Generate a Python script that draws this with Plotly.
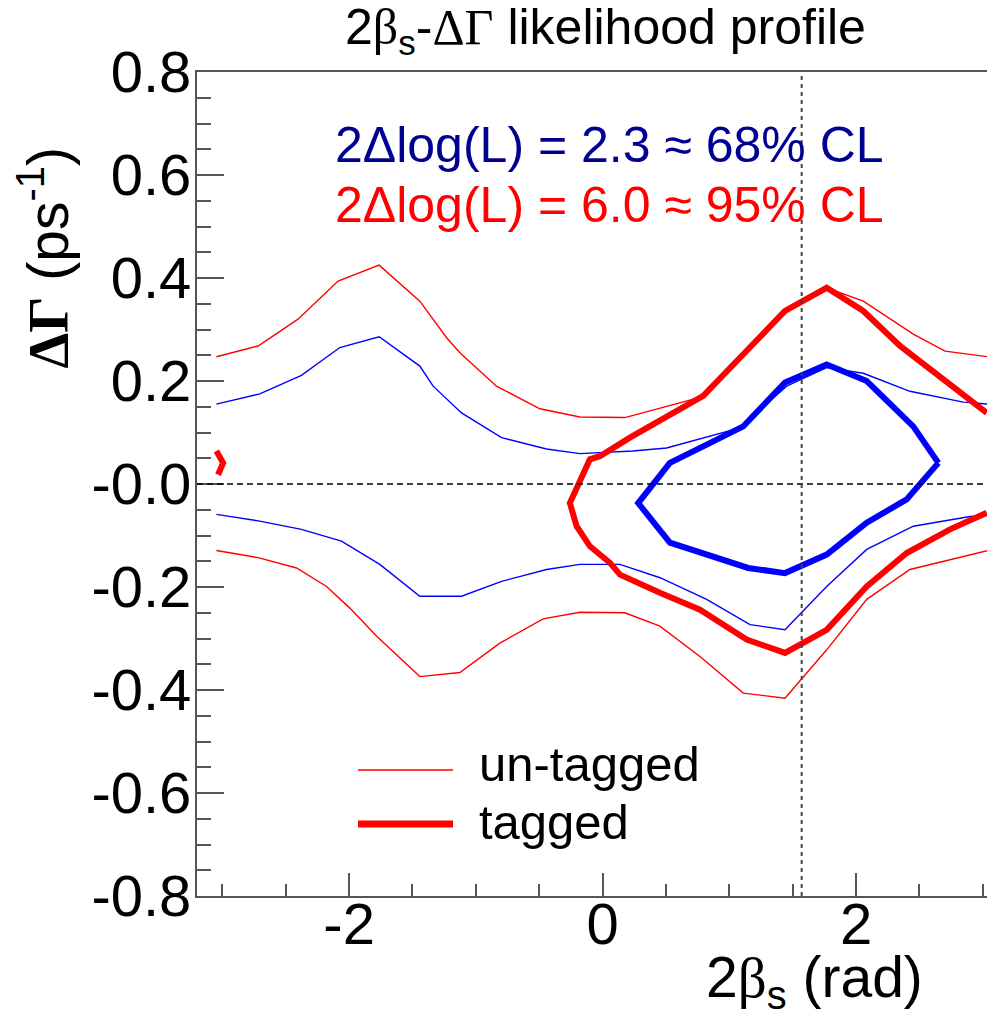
import plotly.graph_objects as go

# ---------------- data ----------------
# un-tagged, 95% CL (thin red), upper and lower branches
untag95_up_x = [-3.047, -2.718, -2.403, -2.087, -1.763, -1.442, -1.231, -1.126, -0.837, -0.495,
                -0.179, 0.176, 0.768, 1.110, 1.452, 1.768, 2.057, 2.451, 2.702, 3.043]
untag95_up_y = [0.247, 0.268, 0.320, 0.394, 0.425, 0.355, 0.284, 0.255, 0.190, 0.146,
                0.130, 0.129, 0.168, 0.248, 0.336, 0.381, 0.355, 0.291, 0.258, 0.247]
untag95_lo_x = [-3.047, -2.718, -2.415, -2.178, -1.994, -1.784, -1.442, -1.126, -0.811, -0.469,
                -0.179, 0.176, 0.452, 0.768, 1.110, 1.439, 1.768, 2.084, 2.425, 3.043]
untag95_lo_y = [-0.129, -0.143, -0.163, -0.199, -0.241, -0.295, -0.374, -0.366, -0.309, -0.262,
                -0.249, -0.250, -0.276, -0.335, -0.406, -0.416, -0.322, -0.224, -0.166, -0.129]

# un-tagged, 68% CL (thin blue)
untag68_up_x = [-3.047, -2.705, -2.376, -2.073, -1.763, -1.442, -1.337, -1.113, -0.797, -0.442,
                -0.179, 0.239, 0.505, 1.084, 1.452, 1.768, 2.057, 2.425, 2.846, 3.043]
untag68_up_y = [0.155, 0.175, 0.211, 0.265, 0.286, 0.229, 0.190, 0.138, 0.090, 0.068,
                0.059, 0.064, 0.070, 0.109, 0.190, 0.226, 0.215, 0.180, 0.159, 0.155]
untag68_lo_x = [-3.047, -2.705, -2.376, -2.060, -1.758, -1.442, -1.113, -0.797, -0.442, -0.179,
                0.137, 0.453, 0.821, 1.163, 1.439, 1.768, 2.084, 2.451, 2.899, 3.043]
untag68_lo_y = [-0.059, -0.072, -0.088, -0.111, -0.156, -0.218, -0.218, -0.189, -0.166, -0.156,
                -0.156, -0.182, -0.224, -0.273, -0.283, -0.199, -0.127, -0.082, -0.063, -0.061]

# tagged, 68% CL (thick blue, closed contour)
tag68_x = [2.649, 2.451, 2.084, 1.768, 1.439, 1.110, 0.794, 0.531, 0.281, 0.531,
           1.149, 1.439, 1.768, 2.084, 2.399, 2.649]
tag68_y = [0.041, 0.112, 0.200, 0.232, 0.197, 0.112, 0.073, 0.041, -0.037, -0.114,
           -0.163, -0.173, -0.137, -0.075, -0.030, 0.041]

# tagged, 95% CL (thick red), main piece and small piece at the left edge
tag95_x = [3.031, 2.347, 2.057, 1.768, 1.439, 1.110, 0.794, 0.215, -0.021, -0.100, -0.179,
           -0.258, -0.205, -0.100, 0.058, 0.137, 0.452, 0.768, 1.137, 1.439, 1.768, 2.084,
           2.399, 2.741, 3.031]
tag95_y = [0.138, 0.268, 0.336, 0.381, 0.336, 0.252, 0.171, 0.090, 0.054, 0.048, 0.002,
           -0.037, -0.082, -0.121, -0.153, -0.176, -0.211, -0.244, -0.302, -0.328, -0.283,
           -0.199, -0.134, -0.088, -0.056]
tag95_edge_x = [-3.047, -2.994, -3.034]
tag95_edge_y = [0.064, 0.041, 0.018]

x_ticks = [-2, 0, 2]
x_ticklabels = ["-2", "0", "2"]
y_ticks = [-0.8, -0.6, -0.4, -0.2, 0.0, 0.2, 0.4, 0.6, 0.8]
y_ticklabels = ["-0.8", "-0.6", "-0.4", "-0.2", "-0.0", "0.2", "0.4", "0.6", "0.8"]
sm_x = 1.5708  # vertical reference (pi/2)

# ---------------- styling ----------------
RED = "rgb(255,0,0)"
BLUE = "rgb(0,0,255)"
NAVY = "rgb(0,0,145)"
AX = "#555555"
SANS = "Liberation Sans, Arial, sans-serif"

fig = go.Figure()

def line(x, y, color, width, name):
    fig.add_trace(go.Scatter(x=x, y=y, mode="lines", name=name,
                             line=dict(color=color, width=width),
                             showlegend=False, hoverinfo="skip"))

line(untag95_up_x, untag95_up_y, RED, 1.4, "un-tagged 95%")
line(untag95_lo_x, untag95_lo_y, RED, 1.4, "un-tagged 95%")
line(untag68_up_x, untag68_up_y, BLUE, 1.4, "un-tagged 68%")
line(untag68_lo_x, untag68_lo_y, BLUE, 1.4, "un-tagged 68%")
line(tag95_x, tag95_y, RED, 6, "tagged 95%")
line(tag95_edge_x, tag95_edge_y, RED, 6, "tagged 95%")
line(tag68_x, tag68_y, BLUE, 6, "tagged 68%")

# reference lines
fig.add_shape(type="line", xref="x", yref="y", x0=-3.2, x1=3.2, y0=0, y1=0,
              line=dict(color="black", width=1.5, dash="6px,4px"))
fig.add_shape(type="line", xref="x", yref="y", x0=sm_x, x1=sm_x, y0=-0.8, y1=0.8,
              line=dict(color="#444444", width=2, dash="4px,4px"))

# legend (manual, ROOT style)
fig.add_shape(type="line", xref="paper", yref="paper", x0=0.2018, x1=0.3208, y0=0.1529, y1=0.1529,
              line=dict(color=RED, width=1.4))
fig.add_shape(type="line", xref="paper", yref="paper", x0=0.2018, x1=0.3208, y0=0.0874, y1=0.0874,
              line=dict(color=RED, width=7))
fig.add_annotation(xref="paper", yref="paper", x=0.351, y=0.1608, xanchor="left", yanchor="middle",
                   text="un-tagged", showarrow=False, font=dict(family=SANS, size=49, color="black"))
fig.add_annotation(xref="paper", yref="paper", x=0.351, y=0.0904, xanchor="left", yanchor="middle",
                   text="tagged", showarrow=False, font=dict(family=SANS, size=49, color="black"))

# CL texts
fig.add_annotation(xref="paper", yref="paper", x=0.171, y=0.912, xanchor="left", yanchor="middle",
                   text="2Δlog(L) = 2.3 ≈ 68% CL", showarrow=False,
                   font=dict(family=SANS, size=50, color=NAVY))
fig.add_annotation(xref="paper", yref="paper", x=0.171, y=0.838, xanchor="left", yanchor="middle",
                   text="2Δlog(L) = 6.0 ≈ 95% CL", showarrow=False,
                   font=dict(family=SANS, size=50, color=RED))

# title
fig.add_annotation(xref="paper", yref="paper", x=0.5125, y=1.0498, xanchor="center", yanchor="middle",
                   text="2<span style='font-family:Liberation Serif'>β</span><sub>s</sub>-"
                        "<span style='font-family:Liberation Serif'>ΔΓ</span> likelihood profile",
                   showarrow=False, font=dict(family=SANS, size=50, color="black"))

# axis titles
fig.add_annotation(xref="paper", yref="paper", x=0.912, y=-0.103, xanchor="right", yanchor="middle",
                   text="2<span style='font-family:Liberation Serif'>β</span><sub>s</sub> (rad)",
                   showarrow=False, font=dict(family=SANS, size=57, color="black"))
fig.add_annotation(xref="paper", yref="paper", x=-0.1915, y=0.775, xanchor="center", yanchor="middle",
                   textangle=-90,
                   text="<span style='font-family:Liberation Serif'><b>ΔΓ</b></span> (ps<sup>-1</sup>)",
                   showarrow=False, font=dict(family=SANS, size=57, color="black"))

fig.update_xaxes(range=[-3.2, 3.096], tickmode="array", tickvals=x_ticks, ticktext=x_ticklabels,
                 ticks="inside", ticklen=23, tickwidth=1.5, tickcolor=AX,
                 minor=dict(ticks="inside", ticklen=12, tickwidth=1.5, tickcolor=AX,
                            tickmode="linear", tick0=0, dtick=0.5, showgrid=False),
                 showline=True, linecolor=AX, linewidth=2, mirror=True,
                 showgrid=False, zeroline=False, automargin=False, ticklabelstandoff=-24,
                 tickfont=dict(family=SANS, size=58, color="black"))
fig.update_yaxes(range=[-0.8, 0.8], tickmode="array", tickvals=y_ticks, ticktext=y_ticklabels,
                 ticks="inside", ticklen=27, tickwidth=1.5, tickcolor=AX,
                 minor=dict(ticks="inside", ticklen=14, tickwidth=1.5, tickcolor=AX,
                            tickmode="linear", tick0=0, dtick=0.05, showgrid=False),
                 showline=True, linecolor=AX, linewidth=2, mirror=False,
                 showgrid=False, zeroline=False, automargin=False, ticklabelstandoff=-8,
                 tickfont=dict(family=SANS, size=58, color="black"))

# page body has an 8px margin: the figure is sized/margined so the plot area lands where the reference has it
fig.update_layout(width=987, height=1013, template="none",
                  margin=dict(l=189, r=0, t=64, b=125, pad=0, autoexpand=False),
                  plot_bgcolor="white", paper_bgcolor="white", showlegend=False)

fig.write_html("out.html")
